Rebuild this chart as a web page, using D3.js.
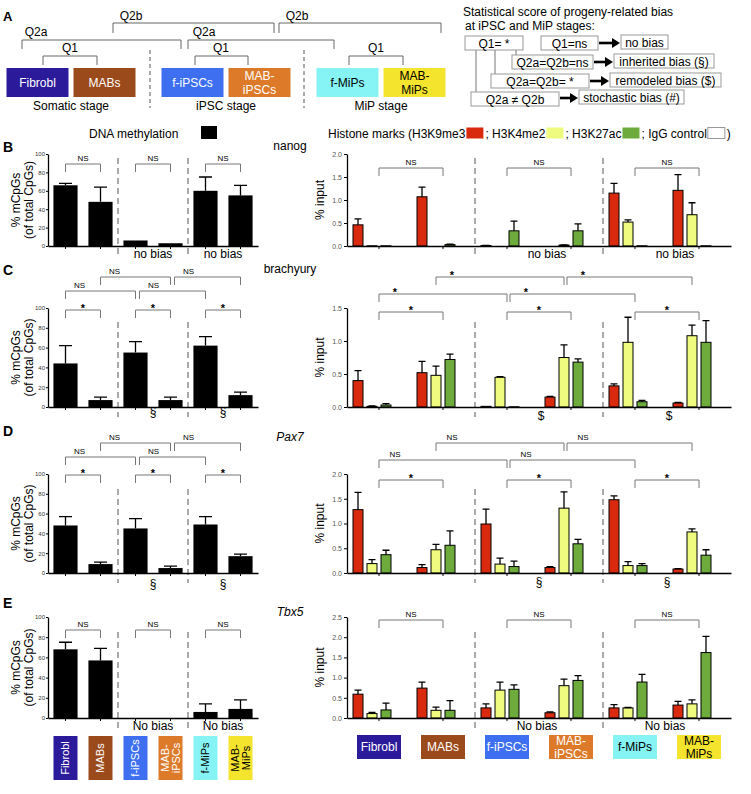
<!DOCTYPE html>
<html>
<head>
<meta charset="utf-8">
<script src="https://cdn.jsdelivr.net/npm/d3@7/dist/d3.min.js"></script>
<style>
  body { margin: 0; background: #fff; }
  svg { display: block; font-family: "Liberation Sans", Arial, Helvetica, sans-serif; }
</style>
</head>
<body>
<script>
// cell types, in the order they appear everywhere
const cellTypes = ["Fibrobl", "MABs", "f-iPSCs", "MAB-iPSCs", "f-MiPs", "MAB-MiPs"];
const cellLines = [["Fibrobl"], ["MABs"], ["f-iPSCs"], ["MAB-", "iPSCs"], ["f-MiPs"], ["MAB-", "MiPs"]];
const cellColors = ["#2b1a99", "#9b4a1c", "#3e6ff0", "#dc7a2a", "#86f3f5", "#f5e42e"];
const cellText = ["#fff", "#fff", "#fff", "#fff", "#000", "#000"];
const stages = ["Somatic stage", "iPSC stage", "MiP stage"];

const marks = ["H3K9me3", "H3K4me2", "H3K27ac", "IgG control"];
const markColors = ["#d92a10", "#eefb7e", "#6cab3c", "#ffffff"];

const genes = ["nanog", "brachyury", "Pax7", "Tbx5"];
const geneItalic = [false, false, true, true];

// DNA methylation (% mCpGs), bar value and top of error bar
const nanogMeth = [66, 48, 6, 3, 60, 55];
const nanogMethErr = [68, 64, 6, 3, 75, 66];
const brachyuryMeth = [44, 7, 55, 7, 62, 12];
const brachyuryMethErr = [62, 10, 66, 10, 71, 15];
const pax7Meth = [48, 9, 45, 5, 49, 17];
const pax7MethErr = [57, 11, 55, 7, 57, 19];
const tbx5Meth = [68, 57, 0, 0, 6, 9];
const tbx5MethErr = [75, 69, 0, 0, 14, 18];

// histone ChIP (% input), one row per cell type: H3K9me3, H3K4me2, H3K27ac, IgG
const nanogHist = [[0.46, 0.005, 0.005, 0], [1.07, 0, 0.03, 0], [0.01, 0, 0.33, 0],
                   [0, 0.02, 0.33, 0], [1.15, 0.52, 0.005, 0], [1.21, 0.68, 0.005, 0]];
const nanogHistErr = [[0.59, 0, 0, 0], [1.28, 0, 0.04, 0], [0.015, 0, 0.54, 0],
                      [0, 0.025, 0.48, 0], [1.36, 0.57, 0, 0], [1.55, 0.94, 0, 0]];
const brachyuryHist = [[0.40, 0.01, 0.03, 0], [0.52, 0.48, 0.72, 0], [0.01, 0.45, 0.004, 0],
                       [0.15, 0.75, 0.68, 0], [0.32, 0.98, 0.08, 0], [0.06, 1.08, 0.98, 0]];
const brachyuryHistErr = [[0.55, 0.015, 0.05, 0], [0.69, 0.62, 0.80, 0], [0.01, 0.46, 0, 0],
                          [0.16, 0.94, 0.73, 0], [0.35, 1.36, 0.10, 0], [0.07, 1.24, 1.31, 0]];
const pax7Hist = [[1.28, 0.19, 0.37, 0], [0.11, 0.47, 0.56, 0], [0.99, 0.18, 0.13, 0],
                  [0.11, 1.31, 0.59, 0], [1.48, 0.15, 0.15, 0], [0.08, 0.83, 0.36, 0]];
const pax7HistErr = [[1.63, 0.27, 0.46, 0], [0.17, 0.58, 0.85, 0], [1.29, 0.30, 0.24, 0],
                     [0.13, 1.64, 0.68, 0], [1.56, 0.23, 0.19, 0], [0.09, 0.89, 0.47, 0]];
const tbx5Hist = [[0.59, 0.11, 0.20, 0], [0.74, 0.19, 0.19, 0], [0.25, 0.69, 0.71, 0],
                  [0.13, 0.80, 0.93, 0], [0.25, 0.25, 0.89, 0], [0.32, 0.35, 1.62, 0]];
const tbx5HistErr = [[0.69, 0.14, 0.37, 0], [0.89, 0.27, 0.43, 0], [0.35, 0.89, 0.82, 0],
                     [0.15, 0.96, 1.05, 0], [0.33, 0.26, 1.08, 0], [0.41, 0.45, 2.02, 0]];
const histMax = [2.0, 1.5, 2.0, 2.5];

// comparisons: [level, from, to, label methylation, label histone]
const nanogBrackets = [["Q1", 0, 1, "NS", "NS"], ["Q1", 2, 3, "NS", "NS"], ["Q1", 4, 5, "NS", "NS"]];
const brachyuryBrackets = [["Q2b", 1, 3, "NS", "*"], ["Q2b", 3, 5, "NS", "*"],
                           ["Q2a", 0, 2, "NS", "*"], ["Q2a", 2, 4, "NS", "*"],
                           ["Q1", 0, 1, "*", "*"], ["Q1", 2, 3, "*", "*"], ["Q1", 4, 5, "*", "*"]];
const pax7Brackets = [["Q2b", 1, 3, "NS", "NS"], ["Q2b", 3, 5, "NS", "NS"],
                      ["Q2a", 0, 2, "NS", "NS"], ["Q2a", 2, 4, "NS", "NS"],
                      ["Q1", 0, 1, "*", "*"], ["Q1", 2, 3, "*", "*"], ["Q1", 4, 5, "*", "*"]];
const tbx5Brackets = [["Q1", 0, 1, "NS", "NS"], ["Q1", 2, 3, "NS", "NS"], ["Q1", 4, 5, "NS", "NS"]];

// bias scores under iPSC and MiP stages
const nanogNotes = [["no bias", "no bias"], ["no bias", "no bias"]];
const brachyuryNotes = [["\u00a7", "\u00a7"], ["$", "$"]];
const pax7Notes = [["\u00a7", "\u00a7"], ["\u00a7", "\u00a7"]];
const tbx5Notes = [["No bias", "No bias"], ["No bias", "No bias"]];

const geneMeth = [nanogMeth, brachyuryMeth, pax7Meth, tbx5Meth];
const geneMethErr = [nanogMethErr, brachyuryMethErr, pax7MethErr, tbx5MethErr];
const geneHist = [nanogHist, brachyuryHist, pax7Hist, tbx5Hist];
const geneHistErr = [nanogHistErr, brachyuryHistErr, pax7HistErr, tbx5HistErr];
const geneBrackets = [nanogBrackets, brachyuryBrackets, pax7Brackets, tbx5Brackets];
const geneNotes = [nanogNotes, brachyuryNotes, pax7Notes, tbx5Notes];

// layout
const panelLetters = ["B", "C", "D", "E"];
const panelTop = [154, 308, 474, 617];
const panelBottom = [246, 407, 573, 718];
const q1OffL = [10, 2, 1, 13], q1OffR = [14, 4, 6, 3];
const noteOffL = [12, 9, 15, 12], noteOffR = [12, 13, 13, 12];
const noteShiftR = [8, 2, 0, -2];
const geneLabelY = [150, 273, 441, 616];
const letterY = [152, 275, 436, 608];
const dashTop = [4, 14, 15, 15];

const svg = d3.select("body").append("svg").attr("width", 751).attr("height", 794);

function multiLine(g, cx, cy, lines, color, fs, lh, rotate) {
  const t = g.append("text")
    .attr("transform", `translate(${cx},${cy})` + (rotate ? " rotate(-90)" : ""))
    .attr("text-anchor", "middle").attr("font-size", fs).attr("fill", color);
  lines.forEach((l, k) => {
    t.append("tspan").attr("x", 0)
      .attr("y", (k - (lines.length - 1) / 2) * lh + fs * 0.35).text(l);
  });
}

// ---------------- panel A ----------------
svg.append("text").attr("x", 3).attr("y", 21).attr("font-size", 13)
  .attr("font-weight", "bold").text("A");

const stageX = d3.scalePoint().domain(stages).range([71, 381]);
const gA = svg.append("g");
cellTypes.forEach((c, i) => {
  const cx = stageX(stages[Math.floor(i / 2)]) + (i % 2 ? 33.5 : -33.5);
  gA.append("rect").attr("x", cx - 31).attr("y", 68).attr("width", 62).attr("height", 29)
    .attr("fill", cellColors[i]);
  multiLine(gA, cx, 83, cellLines[i], cellText[i], 12, 14, false);
});
stages.forEach(s => {
  gA.append("text").attr("x", stageX(s)).attr("y", 110).attr("text-anchor", "middle")
    .attr("font-size", 12).text(s);
});
[150, 304].forEach(x => {
  gA.append("line").attr("x1", x).attr("x2", x).attr("y1", 50).attr("y2", 108)
    .attr("stroke", "#555").attr("stroke-dasharray", "4,3");
});

const aBrackets = [
  ["Q2b", 113, 274, 23, 10, 131, 20], ["Q2b", 279, 441, 23, 10, 297, 20],
  ["Q2a", 22, 181, 40, 9, 36, 36], ["Q2a", 188, 334, 40, 9, 204, 36],
  ["Q1", 43, 97, 56, 9, 70, 52], ["Q1", 195, 248, 56, 9, 221, 52], ["Q1", 349, 403, 56, 9, 376, 52]
];
aBrackets.forEach(b => {
  gA.append("path").attr("d", `M${b[1]},${b[3] + b[4]}V${b[3]}H${b[2]}V${b[3] + b[4]}`)
    .attr("fill", "none").attr("stroke", "#666");
  gA.append("text").attr("x", b[5]).attr("y", b[6]).attr("text-anchor", "middle")
    .attr("font-size", 12).text(b[0]);
});

// flowchart of bias scores
gA.append("text").attr("x", 463).attr("y", 16).attr("font-size", 12)
  .text("Statistical score of progeny-related bias");
gA.append("text").attr("x", 465).attr("y", 30).attr("font-size", 12)
  .text("at iPSC and MiP stages:");
const flowBoxes = [
  ["Q1=  *", 465, 523, 36], ["Q1=ns", 541, 598, 36], ["no bias", 621, 668, 35],
  ["Q2a=Q2b=ns", 512, 593, 55], ["inherited bias (\u00a7)", 614, 714, 54],
  ["Q2a=Q2b= *", 491, 589, 74], ["remodeled bias ($)", 610, 721, 73],
  ["Q2a \u2260 Q2b", 471, 559, 92], ["stochastic bias (#)", 579, 684, 90]
];
[[516, 55], [495, 74], [476, 92]].forEach(c => {
  gA.append("line").attr("x1", c[0]).attr("x2", c[0]).attr("y1", 50).attr("y2", c[1])
    .attr("stroke", "#777");
});
flowBoxes.forEach(b => {
  gA.append("rect").attr("x", b[1]).attr("y", b[3]).attr("width", b[2] - b[1]).attr("height", 14)
    .attr("fill", "#fff").attr("stroke", "#999");
  gA.append("text").attr("x", (b[1] + b[2]) / 2).attr("y", b[3] + 11.5)
    .attr("text-anchor", "middle").attr("font-size", 12).text(b[0]);
});
[[599, 620, 43], [594, 613, 62], [590, 609, 81], [560, 578, 98]].forEach(a => {
  gA.append("line").attr("x1", a[0]).attr("x2", a[1] - 5).attr("y1", a[2]).attr("y2", a[2])
    .attr("stroke", "#000").attr("stroke-width", 2.6);
  gA.append("path").attr("d", `M${a[1] - 8},${a[2] - 5}L${a[1]},${a[2]}L${a[1] - 8},${a[2] + 5}Z`)
    .attr("fill", "#000");
});

// ---------------- legends ----------------
svg.append("text").attr("x", 89).attr("y", 138).attr("font-size", 12).text("DNA methylation");
svg.append("rect").attr("x", 201).attr("y", 126).attr("width", 16).attr("height", 13).attr("fill", "#000");

(function () {
  let x = 328;
  const pieces = ["Histone marks (H3K9me3", "; H3K4me2", "; H3K27ac", "; IgG control"];
  pieces.forEach((p, i) => {
    const t = svg.append("text").attr("x", x).attr("y", 138).attr("font-size", 12).text(p);
    x += t.node().getComputedTextLength() + 1;
    svg.append("rect").attr("x", x).attr("y", 127.5).attr("width", 17).attr("height", 11)
      .attr("fill", markColors[i]).attr("stroke", i === 3 ? "#999" : "none");
    x += 19;
  });
  svg.append("text").attr("x", x).attr("y", 138).attr("font-size", 12).text(")");
})();

// ---------------- panels B-E ----------------
const xL = d3.scaleBand().domain(cellTypes).range([48, 258]).paddingInner(0.31).paddingOuter(0.155);
const xR = d3.scaleBand().domain(cellTypes).range([347, 731]);
const xSub = d3.scaleBand().domain(marks).range([4, 60]).paddingInner(0.286).paddingOuter(0.143);
const cL = i => xL(cellTypes[i]) + xL.bandwidth() / 2;
const cR = i => xR(cellTypes[i]) + xR.bandwidth() / 2;

function styleAxis(g, fs, color) {
  g.attr("font-size", fs).attr("font-family", null);
  g.selectAll("text").attr("fill", color);
  g.select(".domain").attr("stroke", "#000").attr("stroke-width", 1.3);
  g.selectAll(".tick line").attr("stroke", "#000");
}

function drawBracket(g, x1, x2, y, label, lx) {
  g.append("path").attr("d", `M${x1},${y + 8}V${y}H${x2}V${y + 8}`)
    .attr("fill", "none").attr("stroke", "#777").attr("stroke-width", 1);
  const star = label === "*";
  g.append("text").attr("x", lx).attr("y", star ? y + 1.5 : y - 3)
    .attr("text-anchor", "middle").attr("font-size", star ? 11 : 8)
    .attr("font-weight", star ? "bold" : null).text(label);
}

genes.forEach((gene, p) => {
  const top = panelTop[p], bottom = panelBottom[p];
  const g = svg.append("g");

  g.append("text").attr("x", 3).attr("y", letterY[p]).attr("font-size", 14)
    .attr("font-weight", "bold").text(panelLetters[p]);
  g.append("text").attr("x", 290).attr("y", geneLabelY[p]).attr("text-anchor", "middle")
    .attr("font-size", 12).attr("font-style", geneItalic[p] ? "italic" : null).text(gene);

  // --- DNA methylation ---
  const yL = d3.scaleLinear().domain([0, 100]).range([bottom, top]);
  [cL(1) / 2 + cL(2) / 2, cL(3) / 2 + cL(4) / 2].forEach(x => {
    g.append("line").attr("x1", x).attr("x2", x).attr("y1", top + dashTop[p]).attr("y2", bottom + 10)
      .attr("stroke", "#555").attr("stroke-dasharray", "6,4");
  });
  g.selectAll(null).data(geneMeth[p]).join("rect")
    .attr("x", (d, i) => xL(cellTypes[i])).attr("width", xL.bandwidth())
    .attr("y", d => yL(d)).attr("height", d => yL(0) - yL(d)).attr("fill", "#000");
  geneMethErr[p].forEach((e, i) => {
    const v = geneMeth[p][i];
    if (e <= v) return;
    g.append("path").attr("d", `M${cL(i)},${yL(v)}V${yL(e)}M${cL(i) - 6.5},${yL(e)}H${cL(i) + 6.5}`)
      .attr("stroke", "#000").attr("stroke-width", 1.3).attr("fill", "none");
  });
  g.append("g").attr("transform", `translate(48,0)`)
    .call(d3.axisLeft(yL).tickValues([0, 20, 40, 60, 80, 100]).tickSize(2).tickPadding(1).tickSizeOuter(0))
    .call(a => styleAxis(a, 6, "#333"));
  g.append("g").attr("transform", `translate(0,${bottom})`)
    .call(d3.axisBottom(xL).tickFormat("").tickSize(3).tickSizeOuter(0))
    .call(a => styleAxis(a, 6, "#333"));
  const cy = (top + bottom) / 2;
  g.append("text").attr("transform", `translate(20,${cy}) rotate(-90)`).attr("text-anchor", "middle")
    .attr("font-size", 12).text("% mCpGs");
  g.append("text").attr("transform", `translate(33,${cy}) rotate(-90)`).attr("text-anchor", "middle")
    .attr("font-size", 12).text("(of total CpGs)");

  // --- histone marks ---
  const yR = d3.scaleLinear().domain([0, histMax[p]]).range([bottom, top]);
  [xR(cellTypes[2]), xR(cellTypes[4])].forEach(x => {
    g.append("line").attr("x1", x).attr("x2", x).attr("y1", top + dashTop[p]).attr("y2", bottom + 10)
      .attr("stroke", "#555").attr("stroke-dasharray", "6,4");
  });
  geneHist[p].forEach((row, i) => {
    row.forEach((v, j) => {
      if (v <= 0) return;
      const x = xR(cellTypes[i]) + xSub(marks[j]);
      g.append("rect").attr("x", x).attr("width", xSub.bandwidth())
        .attr("y", yR(v)).attr("height", yR(0) - yR(v))
        .attr("fill", markColors[j]).attr("stroke", "#000").attr("stroke-width", 1);
      const e = geneHistErr[p][i][j];
      if (e > v) {
        const cx = x + xSub.bandwidth() / 2;
        g.append("path").attr("d", `M${cx},${yR(v)}V${yR(e)}M${cx - 3.5},${yR(e)}H${cx + 3.5}`)
          .attr("stroke", "#000").attr("stroke-width", 1.3).attr("fill", "none");
      }
    });
  });
  g.append("g").attr("transform", `translate(347,0)`)
    .call(d3.axisLeft(yR).tickValues(d3.range(0, histMax[p] + 0.01, 0.5)).tickFormat(d3.format(".1f"))
      .tickSize(3).tickPadding(2).tickSizeOuter(0))
    .call(a => styleAxis(a, 7, "#555"));
  g.append("g").attr("transform", `translate(0,${bottom})`)
    .call(d3.axisBottom(xR).tickFormat("").tickSize(3).tickSizeOuter(0))
    .call(a => styleAxis(a, 7, "#555"));
  g.append("text").attr("transform", `translate(324,${cy}) rotate(-90)`).attr("text-anchor", "middle")
    .attr("font-size", 12).text("% input");

  // --- comparisons ---
  const ends = { L: {}, R: {} };
  geneBrackets[p].forEach(b => {
    const [lev, a, z, labL, labR] = b;
    // methylation side
    let yb = lev === "Q1" ? top + q1OffL[p] : lev === "Q2a" ? top - 17 : top - 31;
    let x1 = cL(a), x2 = cL(z);
    if (lev !== "Q1" && ends.L[lev] === a) x1 += 4;
    ends.L[lev] = z;
    drawBracket(g, x1, x2, yb, labL, lev === "Q1" ? (x1 + x2) / 2 : x1 + 14);
    // histone side
    yb = lev === "Q1" ? top + q1OffR[p] : lev === "Q2a" ? top - 14 : top - 31;
    const sh = lev === "Q2b" ? -7 : 0;
    x1 = cR(a) + sh; x2 = cR(z) + sh;
    if (lev !== "Q1" && ends.R[lev] === a) x1 += 3;
    ends.R[lev] = z;
    drawBracket(g, x1, x2, yb, labR, lev === "Q1" ? (x1 + x2) / 2 : x1 + 16);
  });

  geneNotes[p][0].forEach((n, k) => {
    const i = 2 + 2 * k;
    g.append("text").attr("x", (cL(i) + cL(i + 1)) / 2).attr("y", bottom + noteOffL[p])
      .attr("text-anchor", "middle").attr("font-size", 12).text(n);
  });
  geneNotes[p][1].forEach((n, k) => {
    const i = 2 + 2 * k;
    g.append("text").attr("x", (cR(i) + cR(i + 1)) / 2 + noteShiftR[p]).attr("y", bottom + noteOffR[p])
      .attr("text-anchor", "middle").attr("font-size", 12).text(n);
  });
});

// ---------------- cell type keys under E ----------------
cellTypes.forEach((c, i) => {
  svg.append("rect").attr("x", cL(i) - 12).attr("y", 736).attr("width", 24).attr("height", 44)
    .attr("fill", cellColors[i]);
  multiLine(svg, cL(i), 758, cellLines[i], cellText[i], 11, 11, true);
  svg.append("rect").attr("x", cR(i) - 22).attr("y", 735).attr("width", 44).attr("height", 24)
    .attr("fill", cellColors[i]);
  multiLine(svg, cR(i), 747, cellLines[i], cellText[i], 12, 13, false);
});
</script>
</body>
</html>
